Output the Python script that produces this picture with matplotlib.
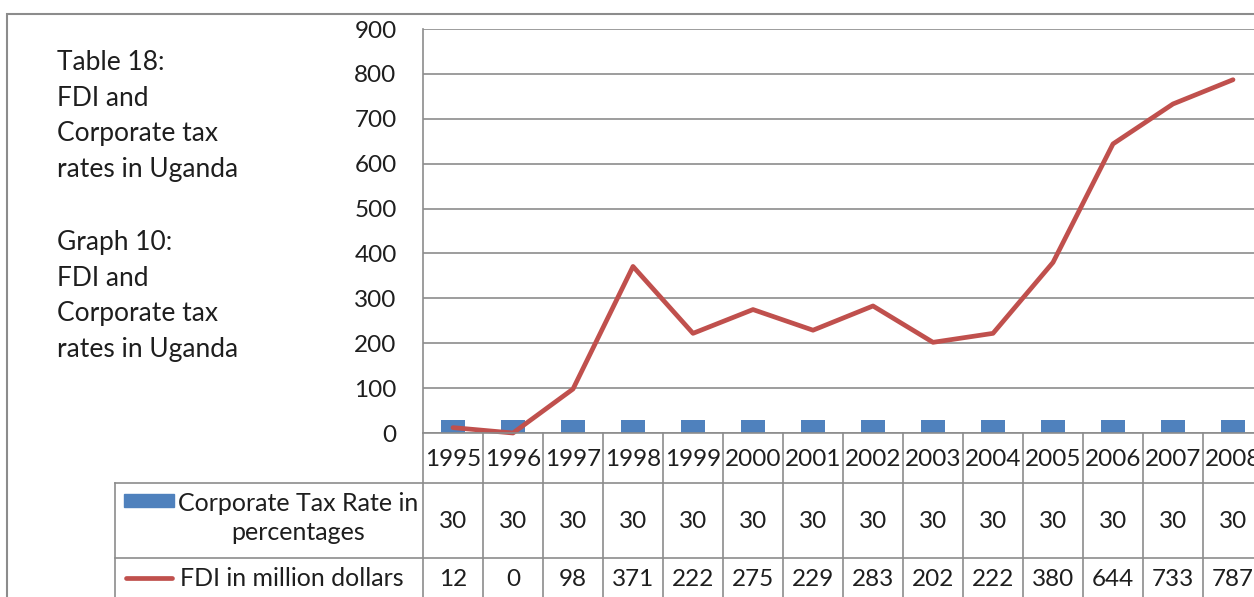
import matplotlib
matplotlib.use("Agg")
import matplotlib.pyplot as plt

plt.rcParams['font.family'] = ['Lato', 'DejaVu Sans']

years = ['1995', '1996', '1997', '1998', '1999', '2000', '2001', '2002',
         '2003', '2004', '2005', '2006', '2007', '2008']
tax_rate = [30, 30, 30, 30, 30, 30, 30, 30, 30, 30, 30, 30, 30, 30]
fdi = [12, 0, 98, 371, 222, 275, 229, 283, 202, 222, 380, 644, 733, 787]
side_text = ['Table 18:', 'FDI and', 'Corporate tax', 'rates in Uganda', '',
             'Graph 10:', 'FDI and', 'Corporate tax', 'rates in Uganda']

W, H = 1254, 597
BLUE = '#4F81BD'
RED = '#C0504D'
GRID = '#8c8c8c'
INK = '#1e1e1e'
FS = 17.5

fig = plt.figure(figsize=(W / 100, H / 100), dpi=100)

# outer chart border (runs off the right and bottom edge)
fig.add_artist(plt.Rectangle((7 / W, -0.1), 1.2, (H - 14) / H + 0.1,
                             transform=fig.transFigure, fill=False,
                             edgecolor=GRID, lw=1.5))

# left text block
for i, t in enumerate(side_text):
    fig.text(57 / W, 1 - (62 + 36 * i) / H, t, fontsize=19, va='center',
             color=INK)

# plot area
ax = fig.add_axes([423 / W, (H - 433) / H, 840 / W, 404 / H])
x = list(range(len(years)))
ax.bar(x, tax_rate, width=0.4, color=BLUE, zorder=2)
ax.plot(x, fdi, color=RED, lw=3.4, solid_capstyle='round',
        solid_joinstyle='round', clip_on=False, zorder=3)
ax.set_xlim(-0.5, len(years) - 0.5)
ax.set_ylim(0, 900)
ax.set_yticks(range(0, 901, 100))
ax.set_xticks([])
ax.yaxis.grid(True, color=GRID, lw=1.2)
ax.set_axisbelow(True)
for s in ['top', 'right', 'bottom']:
    ax.spines[s].set_visible(False)
ax.spines['left'].set_color(GRID)
ax.spines['left'].set_linewidth(1.2)
ax.tick_params(axis='y', length=0, pad=19, labelsize=FS, labelcolor=INK)

# data table under the plot, in the same column units
left = -0.5 - (423 - 115) / 60
tb = fig.add_axes([115 / W, 0, (1263 - 115) / W, (H - 433) / H])
tb.set_xlim(left, len(years) - 0.5)
tb.set_ylim(H, 433)
tb.axis('off')
kw = dict(color=GRID, lw=1.2, clip_on=False)
tb.plot([-0.5, len(years) - 0.5], [433, 433], **kw)
for yy in [483, 558]:
    tb.plot([left, len(years) - 0.5], [yy, yy], **kw)
for i in range(len(years) + 1):
    tb.plot([i - 0.5, i - 0.5], [433, 640], **kw)
tb.plot([left, left], [483, 640], **kw)

for i, yr in enumerate(years):
    tb.text(i, 459, yr, ha='center', va='center', fontsize=FS, color=INK)
    tb.text(i, 521, str(tax_rate[i]), ha='center', va='center', fontsize=FS,
            color=INK)
    tb.text(i, 580, str(fdi[i]), ha='center', va='center', fontsize=FS,
            color=INK)

# legend keys inside the table
px = lambda p: left + (p - 115) / 60
tb.add_patch(plt.Rectangle((px(124), 494), 50 / 60, 13, color=BLUE,
                           clip_on=False))
tb.text(px(298), 518, 'Corporate Tax Rate in\npercentages', ha='center',
        va='center', fontsize=18, color=INK, linespacing=1.35)
tb.plot([px(126), px(172)], [578, 578], color=RED, lw=3.4,
        solid_capstyle='round', clip_on=False)
tb.text(px(180), 578, 'FDI in million dollars', ha='left', va='center',
        fontsize=18, color=INK)

fig.savefig('out.png', dpi=100)
